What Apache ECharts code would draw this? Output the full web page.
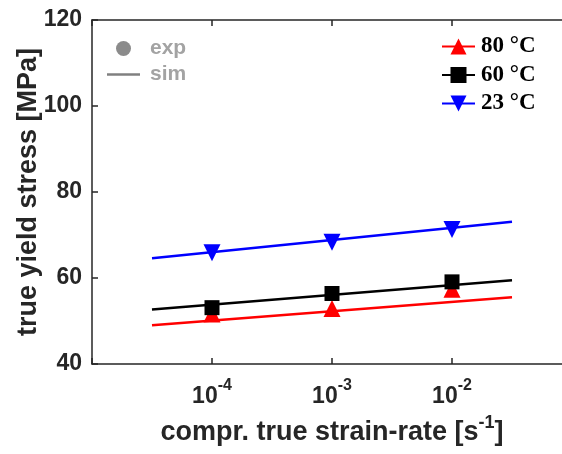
<!DOCTYPE html>
<html>
<head>
<meta charset="utf-8">
<script src="https://cdn.jsdelivr.net/npm/echarts@6/dist/echarts.min.js"></script>
<style>html,body{margin:0;padding:0;background:#fff;}#c{width:562px;height:454px;}</style>
</head>
<body>
<div id="c"></div>
<script>
// experimental strain rates [1/s]
var expRates = [1e-4, 1e-3, 1e-2];
// simulation line end points [1/s]
var simRates = [Math.pow(10, -4.5), Math.pow(10, -1.5)];
// temperatures
var tempNames = ['80 °C', '60 °C', '23 °C'];
// experimental yield stress [MPa]
var exp80 = [51.6, 52.9, 57.4];
var exp60 = [53.1, 56.4, 59.1];
var exp23 = [65.9, 68.3, 71.3];
// simulated yield stress at simRates [MPa]
var sim80 = [49.0, 55.5];
var sim60 = [52.7, 59.5];
var sim23 = [64.6, 73.1];
// y ticks
var yTicks = [40, 60, 80, 100, 120];

var colors = ['#ff0000', '#000000', '#0000ff'];
var symbols = ['triangle', 'rect', 'triangle'];
var rotates = [0, 0, 180];
var sizes = [17, 15, 17];
var expSets = [exp80, exp60, exp23];
var simSets = [sim80, sim60, sim23];

function pairs(xs, ys) { return xs.map(function (x, i) { return [x, ys[i]]; }); }

var series = [];
// dummy legend series
series.push({ name: 'exp', type: 'scatter', data: [], symbol: 'circle', symbolSize: 15, itemStyle: { color: '#6e6e6e' } });
series.push({ name: 'sim', type: 'line', data: [], symbol: 'none', symbolSize: 0, lineStyle: { color: '#808080', width: 2.5 }, itemStyle: { color: '#808080' } });
for (var i = 0; i < 3; i++) {
  series.push({
    name: tempNames[i], type: 'line', data: pairs(simRates, simSets[i]),
    symbol: symbols[i], symbolSize: sizes[i], symbolRotate: rotates[i], showSymbol: false,
    lineStyle: { color: colors[i], width: 2.5 }, itemStyle: { color: colors[i] },
    z: 2, silent: true
  });
}
for (var j = 0; j < 3; j++) {
  series.push({
    name: tempNames[j], type: 'scatter', data: pairs(expRates, expSets[j]),
    symbol: symbols[j], symbolSize: sizes[j], symbolRotate: rotates[j],
    itemStyle: { color: colors[j], opacity: 1 }, z: 3 + (j === 1 ? 1 : 0)
  });
}

var axisCol = '#262626';
var chart = echarts.init(document.getElementById('c'), null, { renderer: 'canvas' });
chart.setOption({
  animation: false,
  backgroundColor: '#ffffff',
  grid: { left: 92, top: 20, width: 480, height: 344, containLabel: false, outerBoundsMode: 'none' },
  legend: [
    {
      data: ['exp', {name: 'sim', icon: 'path://M0,0 L100,0 L100,8 L0,8 Z'}], orient: 'vertical', left: 107, top: 38,
      padding: 0, itemWidth: 33, itemHeight: 15, itemGap: 5, selectedMode: false,
      textStyle: { color: '#a3a3a3', fontFamily: 'Liberation Sans', fontWeight: 'bold', fontSize: 21, lineHeight: 21, padding: [0, 0, 0, 5] }
    },
    {
      data: tempNames, orient: 'vertical', left: 441, top: 35,
      padding: 0, itemWidth: 33, itemHeight: 20, itemGap: 5.5, selectedMode: false,
      textStyle: { color: '#000000', fontFamily: 'Liberation Serif', fontWeight: 'bold', fontSize: 23, lineHeight: 22, padding: [0, 0, 0, 1] }
    }
  ],
  xAxis: [
    {
      type: 'log', logBase: 10, min: 1e-5, max: 1e-1, position: 'bottom',
      axisLine: { lineStyle: { color: axisCol, width: 1.5 } },
      axisTick: { inside: true, length: 6, lineStyle: { color: axisCol, width: 1.5 } },
      minorTick: { show: false }, splitLine: { show: false },
      axisLabel: {
        margin: 14,
        formatter: function (v) {
          var e = Math.round(Math.log10(v));
          if (e <= -5 || e >= -1) return '';
          return '{b|10}{s|' + e + '}';
        },
        rich: {
          b: { fontFamily: 'Liberation Sans', fontWeight: 'bold', fontSize: 23, color: axisCol, verticalAlign: 'bottom', lineHeight: 30 },
          s: { fontFamily: 'Liberation Sans', fontWeight: 'bold', fontSize: 16, color: axisCol, verticalAlign: 'top', lineHeight: 16 }
        }
      },
      name: '{t|compr. true strain-rate [s}{s|-1}{t|]}', nameLocation: 'middle', nameGap: 50,
      nameTextStyle: {
        rich: {
          t: { fontFamily: 'Liberation Sans', fontWeight: 'bold', fontSize: 27, color: axisCol, verticalAlign: 'bottom', lineHeight: 32 },
          s: { fontFamily: 'Liberation Sans', fontWeight: 'bold', fontSize: 18, color: axisCol, verticalAlign: 'top', lineHeight: 18 }
        }
      }
    },
    {
      type: 'log', logBase: 10, min: 1e-5, max: 1e-1, position: 'top',
      axisLine: { lineStyle: { color: axisCol, width: 1.5 } },
      axisTick: { inside: true, length: 6, lineStyle: { color: axisCol, width: 1.5 } },
      axisLabel: { show: false }, splitLine: { show: false }
    }
  ],
  yAxis: [
    {
      type: 'value', min: yTicks[0], max: yTicks[yTicks.length - 1], interval: 20,
      axisLine: { show: true, lineStyle: { color: axisCol, width: 1.5 } },
      axisTick: { show: true, inside: true, length: 6, lineStyle: { color: axisCol, width: 1.5 } },
      splitLine: { show: false },
      axisLabel: { margin: 10, color: axisCol, fontFamily: 'Liberation Sans', fontWeight: 'bold', fontSize: 23 },
      name: 'true yield stress [MPa]', nameLocation: 'middle', nameGap: 50, nameRotate: 90, nameMoveOverlap: false,
      nameTextStyle: { color: axisCol, fontFamily: 'Liberation Sans', fontWeight: 'bold', fontSize: 27 }
    }
  ],
  series: series
});
</script>
</body>
</html>
